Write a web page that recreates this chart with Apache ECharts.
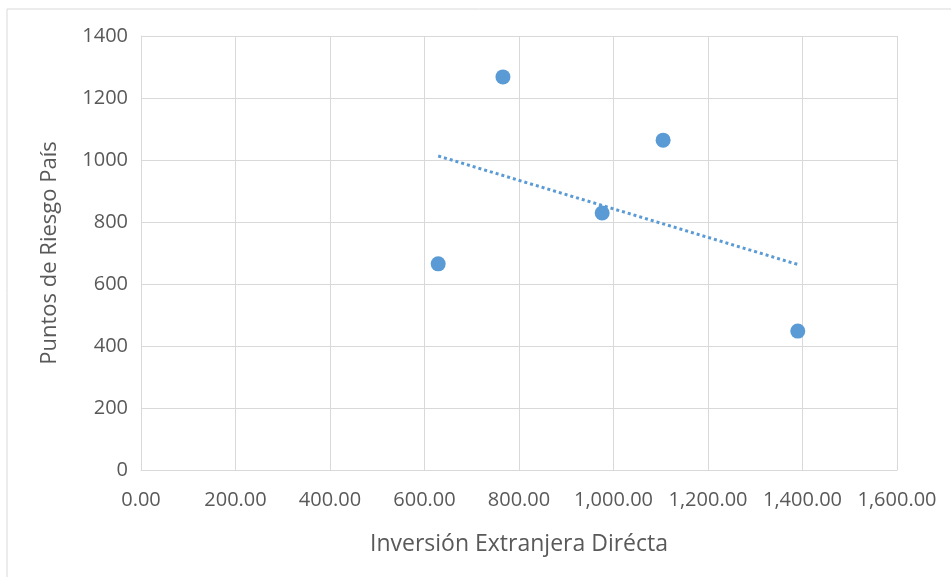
<!DOCTYPE html>
<html><head><meta charset="utf-8">
<script src="https://cdn.jsdelivr.net/npm/echarts@6/dist/echarts.min.js"></script>
<style>html,body{margin:0;padding:0;background:#fff}#c{width:951px;height:577px}</style>
</head><body><div id="c"></div>
<script>
const xValues = [629, 766, 976, 1105, 1390];
const yValues = [665, 1268, 829, 1064, 448];
const trendX = [629, 1390];
const trendY = [1013, 663];
const xTitle = 'Inversión Extranjera Dirécta';
const yTitle = 'Puntos de Riesgo País';

const pts = xValues.map((x, i) => [x, yValues[i]]);
const trend = trendX.map((x, i) => [x, trendY[i]]);
const font = 'Open Sans';
const txt = '#595959';
const grid = '#d9d9d9';
const chart = echarts.init(document.getElementById('c'));
chart.setOption({
  animation: false,
  backgroundColor: '#fff',
  graphic: [{type: 'rect', shape: {x: 7, y: 9, width: 960, height: 600}, style: {fill: 'none', stroke: '#d9d9d9', lineWidth: 1}}],
  grid: {left: 141, right: 54, top: 36, bottom: 107},
  xAxis: {
    type: 'value', min: 0, max: 1600, interval: 200,
    name: xTitle, nameLocation: 'middle', nameGap: 63,
    nameTextStyle: {color: txt, fontFamily: font, fontSize: 23},
    axisLine: {show: true, lineStyle: {color: grid, width: 1}},
    axisTick: {show: false},
    splitLine: {show: true, lineStyle: {color: grid, width: 1}},
    axisLabel: {color: txt, fontFamily: font, fontSize: 20, margin: 20,
      formatter: v => v.toLocaleString('en-US', {minimumFractionDigits: 2, maximumFractionDigits: 2})}
  },
  yAxis: {
    type: 'value', min: 0, max: 1400, interval: 200,
    name: yTitle, nameLocation: 'middle', nameGap: 80,
    nameTextStyle: {color: txt, fontFamily: font, fontSize: 22},
    axisLine: {show: true, lineStyle: {color: grid, width: 1}},
    axisTick: {show: false},
    splitLine: {show: true, lineStyle: {color: grid, width: 1}},
    axisLabel: {color: txt, fontFamily: font, fontSize: 20, margin: 13, formatter: v => String(v)}
  },
  series: [
    {type: 'line', data: trend, symbol: 'none', z: 3,
     lineStyle: {color: '#5B9BD5', width: 3, type: [3, 3]}},
    {type: 'scatter', data: pts, symbolSize: 15, z: 2,
     itemStyle: {color: '#5B9BD5', opacity: 1}}
  ]
});
</script></body></html>
